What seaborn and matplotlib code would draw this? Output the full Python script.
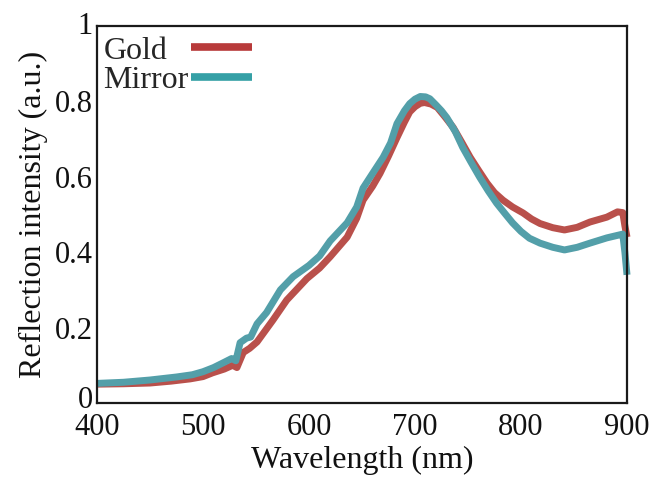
import numpy as np
import pandas as pd
import matplotlib
matplotlib.use("Agg")
import matplotlib.pyplot as plt
import matplotlib.transforms as mtransforms
import seaborn as sns

# ---- data ----
gold_nm = [400, 425, 450, 470, 488, 500, 509, 520, 528, 532, 538, 544, 551, 566, 579,
           598, 610, 620, 636, 645, 651, 660, 667, 675, 683, 690, 695, 700, 705, 709,
           715, 721, 728, 736, 744, 752, 760, 768, 775, 783, 792, 802, 810, 818, 830,
           841, 853, 865, 881, 891, 896, 898, 900]
gold_val = [0.050, 0.051, 0.053, 0.058, 0.064, 0.070, 0.080, 0.090, 0.100, 0.094, 0.134,
            0.145, 0.162, 0.220, 0.273, 0.330, 0.358, 0.388, 0.440, 0.490, 0.538, 0.575,
            0.609, 0.655, 0.704, 0.745, 0.772, 0.786, 0.795, 0.797, 0.793, 0.784, 0.760,
            0.731, 0.692, 0.652, 0.617, 0.583, 0.558, 0.538, 0.520, 0.504, 0.488, 0.476,
            0.465, 0.459, 0.466, 0.480, 0.493, 0.507, 0.505, 0.470, 0.440]

mirror_nm = [400, 425, 450, 475, 490, 500, 510, 520, 527, 531, 535, 541, 545, 551, 560,
             573, 585, 600, 610, 620, 636, 645, 651, 660, 670, 677, 683, 690, 695, 700,
             705, 710, 714, 720, 725, 730, 738, 745, 753, 761, 769, 777, 785, 792, 800,
             808, 818, 830, 841, 853, 865, 881, 893, 896, 898, 900]
mirror_val = [0.052, 0.055, 0.061, 0.069, 0.075, 0.083, 0.094, 0.108, 0.118, 0.112, 0.160,
              0.172, 0.175, 0.210, 0.240, 0.300, 0.335, 0.365, 0.390, 0.430, 0.478, 0.520,
              0.570, 0.609, 0.652, 0.690, 0.741, 0.775, 0.794, 0.806, 0.813, 0.812, 0.807,
              0.790, 0.775, 0.757, 0.720, 0.678, 0.638, 0.599, 0.563, 0.530, 0.502, 0.478,
              0.455, 0.437, 0.424, 0.413, 0.406, 0.413, 0.424, 0.438, 0.446, 0.448, 0.400,
              0.340]

series_names = ["Gold", "Mirror"]
x_ticks = [400, 500, 600, 700, 800, 900]
y_ticks = [0, 0.2, 0.4, 0.6, 0.8, 1]
y_tick_labels = ["0", "0.2", "0.4", "0.6", "0.8", "1"]

line_colors = {"Gold": "#b9504b", "Mirror": "#539fa9"}
legend_colors = {"Gold": "#b83a3a", "Mirror": "#35a0a6"}

df = pd.concat([
    pd.DataFrame({"Wavelength": gold_nm, "Reflection": gold_val, "Sample": "Gold"}),
    pd.DataFrame({"Wavelength": mirror_nm, "Reflection": mirror_val, "Sample": "Mirror"}),
], ignore_index=True)

sns.set_style("white")
plt.rcParams["font.family"] = ["Liberation Serif", "DejaVu Serif"]

fig = plt.figure(figsize=(6.52, 4.78), dpi=100)
ax = fig.add_axes([97 / 652, 1 - 403 / 478, (627 - 97) / 652, (403 - 26) / 478])

for name in series_names:
    sub = df[df["Sample"] == name]
    sns.lineplot(data=sub, x="Wavelength", y="Reflection", ax=ax, color=line_colors[name],
                 linewidth=5, estimator=None, label=name, legend=False,
                 solid_capstyle="butt", solid_joinstyle="round")

for ln in ax.get_lines():
    ln.set_clip_on(False)

ax.set_xlim(400, 900)
ax.set_ylim(0, 1)
ax.set_xticks(x_ticks)
ax.set_yticks(y_ticks)
ax.set_yticklabels(y_tick_labels)
ax.tick_params(axis="both", length=0, labelsize=22, colors="#111111")
ax.tick_params(axis="y", pad=3)
ax.tick_params(axis="x", pad=7)
ax.set_xlabel("Wavelength (nm)", fontsize=23, labelpad=3, color="#111111")
ax.set_ylabel("Reflection intensity (a.u.)", fontsize=23, labelpad=5, color="#111111")
for sp in ax.spines.values():
    sp.set_visible(True)
    sp.set_color("#1a1a1a")
    sp.set_linewidth(1.6)

# nudge the "0" and "1" y labels like the reference
ylabels = ax.get_yticklabels()
ylabels[0].set_transform(ylabels[0].get_transform() +
                         mtransforms.ScaledTranslation(0, 4 / 72, fig.dpi_scale_trans))
ylabels[-1].set_transform(ylabels[-1].get_transform() +
                          mtransforms.ScaledTranslation(0, 2 / 72, fig.dpi_scale_trans))

leg = ax.legend(loc="upper left", bbox_to_anchor=(0.012, 0.973), frameon=False,
                markerfirst=False, fontsize=23, handlelength=1.9, handletextpad=0.08,
                labelspacing=0.0, borderpad=0, borderaxespad=0)
for h, name in zip(leg.get_lines(), series_names):
    h.set_linewidth(5.5)
    h.set_solid_capstyle("butt")
    h.set_color(legend_colors[name])

# align legend labels to the left while keeping handles aligned
fig.canvas.draw()
r = fig.canvas.get_renderer()
texts = leg.get_texts()
widths = [t.get_window_extent(r).width for t in texts]
maxw = max(widths)
col = leg._legend_handle_box.get_children()[0]
for item, w in zip(col.get_children(), widths):
    item.sep += (maxw - w) * 72.0 / fig.dpi

fig.savefig("out.png", dpi=100)
